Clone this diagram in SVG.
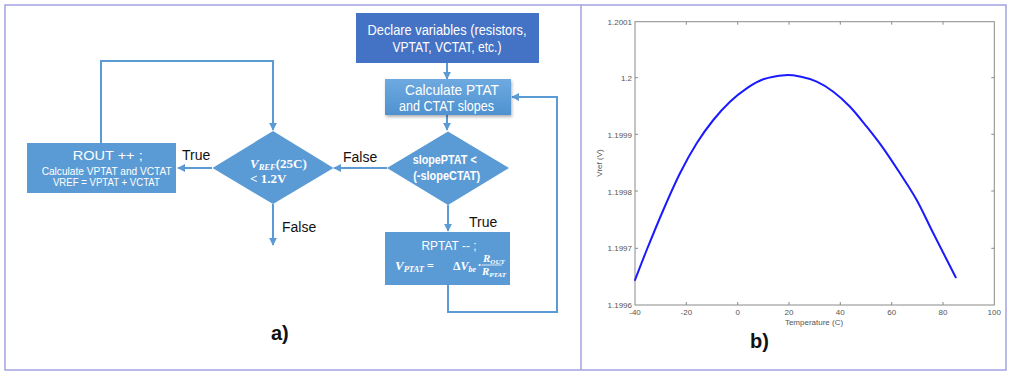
<svg xmlns="http://www.w3.org/2000/svg" width="1009" height="372" viewBox="0 0 1009 372">
<style>
.frame{fill:none;stroke:#a3a3e0;stroke-width:1.5}
.box{fill:#5b9bd5}
.dark{fill:#4472c4}
.wt{fill:#ffffff;font-family:"Liberation Sans",Arial,sans-serif}
.lbl{fill:#111;font-family:"Liberation Sans",Arial,sans-serif;font-size:14px}
.math{fill:#ffffff;font-family:"Liberation Serif","DejaVu Serif",serif;font-weight:bold}
.conn{fill:none;stroke:#5b9bd5;stroke-width:2}
.ax{fill:none;stroke:#8a8a8a;stroke-width:1}
.tk{fill:#555;font-family:"Liberation Sans",Arial,sans-serif;font-size:8px}
.big{fill:#111;font-family:"Liberation Sans",Arial,sans-serif;font-size:20px;font-weight:bold}
</style>
<defs>
<marker id="ah" viewBox="0 0 10 10" refX="9" refY="5" markerWidth="4" markerHeight="4" orient="auto-start-reverse" markerUnits="strokeWidth">
<path d="M0,0 L10,5 L0,10 z" fill="#5b9bd5"/>
</marker>
<linearGradient id="g1" x1="0" y1="0" x2="0" y2="1">
<stop offset="0" stop-color="#6eaae0"/>
<stop offset="1" stop-color="#4f91d0"/>
</linearGradient>
<filter id="sh" x="-10%" y="-10%" width="130%" height="140%">
<feDropShadow dx="1" dy="2" stdDeviation="1.5" flood-color="#000" flood-opacity="0.3"/>
</filter>
</defs>
<rect width="1009" height="372" fill="#ffffff"/>
<rect class="frame" x="5" y="5" width="1001" height="365"/>
<line class="frame" x1="581" y1="5" x2="581" y2="370"/>

<g id="connectors">
<path class="conn" d="M447,63 V79" marker-end="url(#ah)"/>
<path class="conn" d="M447,115 V130" marker-end="url(#ah)"/>
<path class="conn" d="M387,168 H334" marker-end="url(#ah)"/>
<path class="conn" d="M448,205 V231" marker-end="url(#ah)"/>
<path class="conn" d="M448,285 V312 H557 V97 H512" marker-end="url(#ah)"/>
<path class="conn" d="M212,168 H178" marker-end="url(#ah)"/>
<path class="conn" d="M101,143 V61 H273 V130" marker-end="url(#ah)"/>
<path class="conn" d="M273,204 V245" marker-end="url(#ah)"/>
<text class="lbl" x="343" y="162">False</text>
<text class="lbl" x="469" y="227">True</text>
<text class="lbl" x="182" y="160">True</text>
<text class="lbl" x="282" y="232">False</text>
</g>

<g id="declare">
<rect class="dark" x="356" y="13" width="183" height="50"/>
<text class="wt" font-size="14" x="447" y="35" text-anchor="middle" textLength="159" lengthAdjust="spacingAndGlyphs">Declare variables (resistors,</text>
<text class="wt" font-size="14" x="447" y="52" text-anchor="middle" textLength="109" lengthAdjust="spacingAndGlyphs">VPTAT, VCTAT, etc.)</text>
</g>

<g id="calculate">
<rect x="385" y="79" width="126" height="36" fill="url(#g1)" filter="url(#sh)"/>
<text class="wt" font-size="14" x="452" y="94.5" text-anchor="middle" textLength="94" lengthAdjust="spacingAndGlyphs">Calculate PTAT</text>
<text class="wt" font-size="14" x="446.5" y="111" text-anchor="middle" textLength="95" lengthAdjust="spacingAndGlyphs">and CTAT slopes</text>
</g>

<g id="slope-decision">
<polygon class="box" points="448,131.5 509,168 448,205 387,168"/>
<text class="wt" font-size="12" font-weight="bold" x="444.7" y="164" text-anchor="middle" textLength="64" lengthAdjust="spacingAndGlyphs">slopePTAT &lt;</text>
<text class="wt" font-size="12" font-weight="bold" x="446.7" y="179.5" text-anchor="middle" textLength="67" lengthAdjust="spacingAndGlyphs">(-slopeCTAT)</text>
</g>

<g id="rptat">
<rect class="box" x="385" y="232" width="125" height="53"/>
<text class="wt" font-size="13" x="449" y="250" text-anchor="middle" textLength="55" lengthAdjust="spacingAndGlyphs">RPTAT -- ;</text>
<text class="math" font-style="italic" font-size="13" x="395" y="270">V<tspan font-size="8.5" dy="1.5">PTAT</tspan><tspan font-style="normal" font-size="12" dy="-1.5"> =</tspan></text>
<text class="math" font-size="12" x="453" y="270"><tspan font-style="normal">Δ</tspan><tspan font-style="italic">V</tspan><tspan font-style="italic" font-size="8" dy="1.5">be</tspan></text>
<text class="math" font-size="12" x="477.5" y="268.5">·</text>
<text class="math" font-style="italic" font-size="11" x="483" y="262">R<tspan font-size="7" dy="1.5">OUT</tspan></text>
<line x1="481.5" y1="265" x2="502" y2="265" stroke="#ffffff" stroke-width="0.8"/>
<text class="math" font-style="italic" font-size="11" x="482" y="275">R<tspan font-size="7" dy="1.5">PTAT</tspan></text>
</g>

<g id="vref-decision">
<polygon class="box" points="273,131 333.5,168 273,204 212.5,168"/>
<text class="math" font-size="13" x="250" y="168"><tspan font-style="italic">V</tspan><tspan font-style="italic" font-size="8.5" dy="2">REF</tspan><tspan dy="-2">(25C)</tspan></text>
<text class="math" font-size="13" x="250" y="182.5">&lt; 1.2V</text>
</g>

<g id="rout">
<rect class="box" x="27" y="143" width="149" height="50"/>
<text class="wt" font-size="13" x="107.7" y="160" text-anchor="middle" textLength="70" lengthAdjust="spacingAndGlyphs">ROUT ++ ;</text>
<text class="wt" font-size="10" x="106.7" y="174.5" text-anchor="middle" textLength="130" lengthAdjust="spacingAndGlyphs">Calculate VPTAT and VCTAT</text>
<text class="wt" font-size="10" x="106.4" y="186" text-anchor="middle" textLength="107" lengthAdjust="spacingAndGlyphs">VREF = VPTAT + VCTAT</text>
</g>

<text class="big" x="271" y="340">a)</text>

<g id="plot">
<rect class="ax" x="635" y="21.7" width="359.3" height="283.3"/>
<g class="ax">
<path d="M635,77.7 h3 M635,134.3 h3 M635,191 h3 M635,248.3 h3"/>
<path d="M994.3,77.7 h-3 M994.3,134.3 h-3 M994.3,191 h-3 M994.3,248.3 h-3"/>
<path d="M686.3,305 v-3 M737.7,305 v-3 M789,305 v-3 M840.3,305 v-3 M891.7,305 v-3 M943,305 v-3"/>
<path d="M686.3,21.7 v3 M737.7,21.7 v3 M789,21.7 v3 M840.3,21.7 v3 M891.7,21.7 v3 M943,21.7 v3"/>
</g>
<g text-anchor="end" class="tk">
<text x="632" y="24.5">1.2001</text>
<text x="632" y="80.5">1.2</text>
<text x="632" y="137.5">1.1999</text>
<text x="632" y="194.5">1.1998</text>
<text x="632" y="251">1.1997</text>
<text x="632" y="308">1.1996</text>
</g>
<g text-anchor="middle" class="tk">
<text x="635" y="315">-40</text>
<text x="686.3" y="315">-20</text>
<text x="737.7" y="315">0</text>
<text x="789" y="315">20</text>
<text x="840.3" y="315">40</text>
<text x="891.7" y="315">60</text>
<text x="943" y="315">80</text>
<text x="994.3" y="315">100</text>
</g>
<text class="tk" font-size="9" x="814" y="325" text-anchor="middle">Temperature (C)</text>
<text class="tk" x="0" y="0" text-anchor="middle" transform="translate(602,163) rotate(-90)">Vref (V)</text>
<path fill="none" stroke="#1a1aff" stroke-width="2" stroke-linecap="round" d="M635,280 C638.9,270 641.98,261.67 646.7,250 C651.42,238.33 657.75,222.78 663.3,210 C668.85,197.22 674.43,184.42 680,173.3 C685.57,162.18 691.15,152.18 696.7,143.3 C702.25,134.42 707.75,126.93 713.3,120 C718.85,113.07 724.43,106.98 730,101.7 C735.57,96.42 741.15,92.03 746.7,88.3 C752.25,84.57 756.92,81.48 763.3,79.3 C769.68,77.12 778.88,75.65 785,75.2 C791.12,74.75 794.72,75.52 800,76.6 C805.28,77.68 811.15,79.18 816.7,81.7 C822.25,84.22 827.75,87.53 833.3,91.7 C838.85,95.87 844.43,100.87 850,106.7 C855.57,112.53 861.15,119.77 866.7,126.7 C872.25,133.63 877.75,140.53 883.3,148.3 C888.85,156.07 894.43,164.68 900,173.3 C905.57,181.92 911.15,190 916.7,200 C922.25,210 926.8,220.42 933.3,233.3 C939.8,246.18 948.23,262.63 955.7,277.3"/>
</g>

<text class="big" x="750" y="348">b)</text>
</svg>
